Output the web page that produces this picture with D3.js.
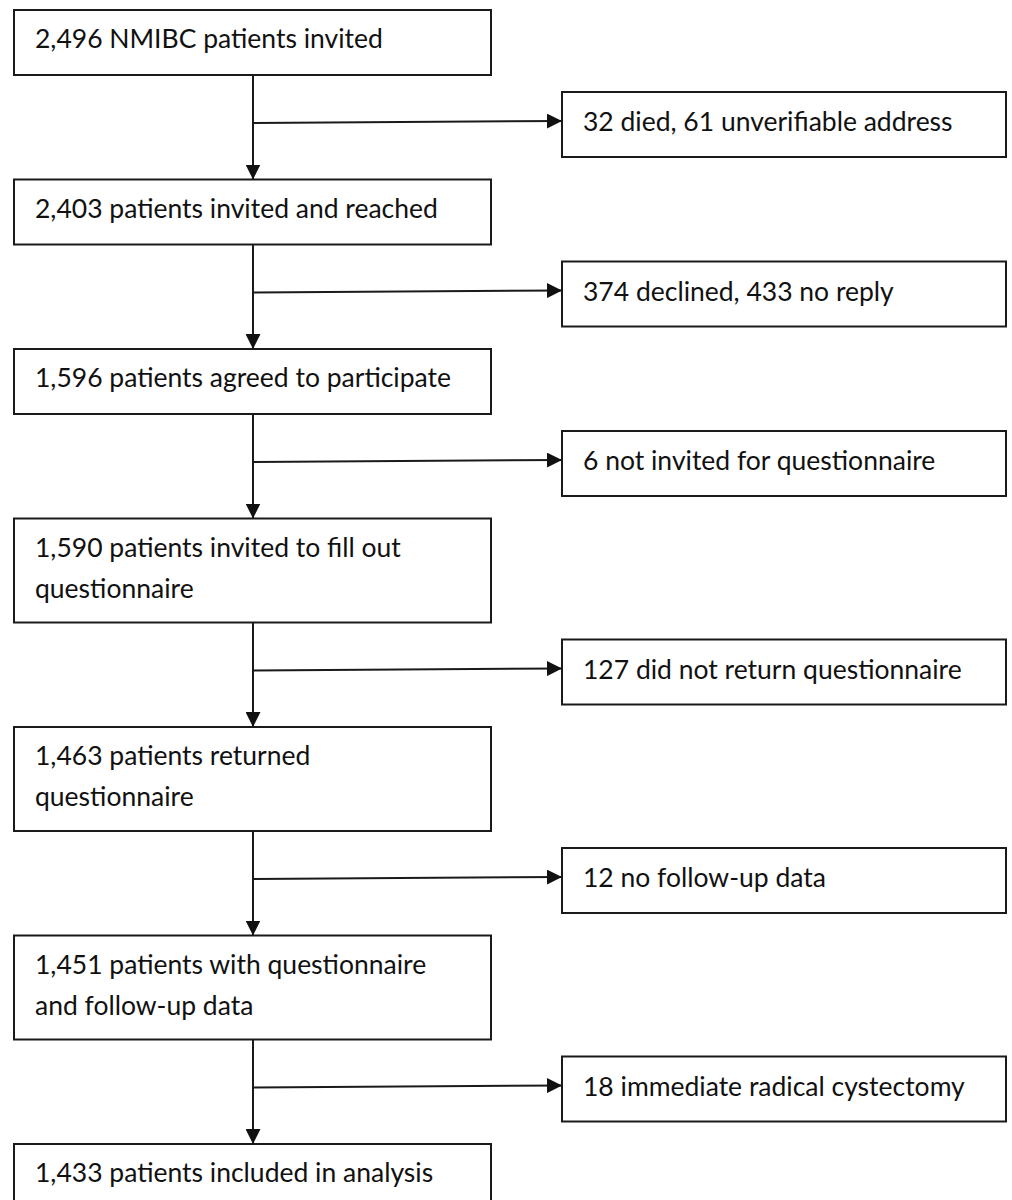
<!DOCTYPE html>
<html>
<head>
<meta charset="utf-8">
<script src="https://cdn.jsdelivr.net/npm/d3@7"></script>
<style>
body{margin:0;background:#fff}
</style>
</head>
<body>
<div id="graph"></div>
<script>
"use strict"
// main flow steps, each line of the box text
var steps=[["2,496 NMIBC patients invited"],
  ["2,403 patients invited and reached"],
  ["1,596 patients agreed to participate"],
  ["1,590 patients invited to fill out","questionnaire"],
  ["1,463 patients returned","questionnaire"],
  ["1,451 patients with questionnaire","and follow-up data"],
  ["1,433 patients included in analysis"]]
// exclusions branching off between steps
var exclusions=["32 died, 61 unverifiable address",
  "374 declined, 433 no reply",
  "6 not invited for questionnaire",
  "127 did not return questionnaire",
  "12 no follow-up data",
  "18 immediate radical cystectomy"]

function init(){
  var W=1012,H=1200
  var svg=d3.select('#graph').append('svg:svg').attr('width',W).attr('height',H)
  var defs=svg.append('defs')
  defs.append('marker').attr('id','arr').attr('viewBox','0 0 10 10').attr('refX',10).attr('refY',5)
    .attr('markerWidth',15).attr('markerHeight',15).attr('markerUnits','userSpaceOnUse').attr('orient','auto')
    .append('path').attr('d','M0,0L10,5L0,10Z').attr('fill','#111')

  var ink='#1a1a1a'
  var font='Lato, "Open Sans", sans-serif'
  var fs=26.5
  var mainX=14,mainW=477,sideX=562,sideW=444
  var gap=104.5
  var cx=253

  // layout main boxes top to bottom
  var boxes=[]
  var y=10
  steps.forEach(function(s,i){
    var h=s.length>1?104:65
    boxes.push({y:y,h:h,lines:s})
    y+=h+gap
  })

  boxes.forEach(function(b,i){
    svg.append('rect').attr('x',mainX).attr('y',b.y).attr('width',mainW).attr('height',b.h)
      .attr('fill','#fff').attr('stroke',ink).attr('stroke-width',2)
    b.lines.forEach(function(t,j){
      svg.append('text').attr('x',mainX+21).attr('y',b.y+38+j*41)
        .attr('font-family',font).attr('font-size',fs).attr('fill','#111').text(t)
    })
    if(i<boxes.length-1){
      var nb=boxes[i+1]
      svg.append('line').attr('x1',cx).attr('y1',b.y+b.h).attr('x2',cx).attr('y2',nb.y)
        .attr('stroke',ink).attr('stroke-width',2).attr('marker-end','url(#arr)')
      var by=b.y+b.h+47
      svg.append('line').attr('x1',cx).attr('y1',by+1).attr('x2',sideX).attr('y2',by-1)
        .attr('stroke',ink).attr('stroke-width',2).attr('marker-end','url(#arr)')
      var ry=by-30
      svg.append('rect').attr('x',sideX).attr('y',ry).attr('width',sideW).attr('height',65)
        .attr('fill','#fff').attr('stroke',ink).attr('stroke-width',2)
      svg.append('text').attr('x',sideX+21).attr('y',ry+39)
        .attr('font-family',font).attr('font-size',fs).attr('fill','#111').text(exclusions[i])
    }
  })
}
init()
</script>
</body>
</html>
